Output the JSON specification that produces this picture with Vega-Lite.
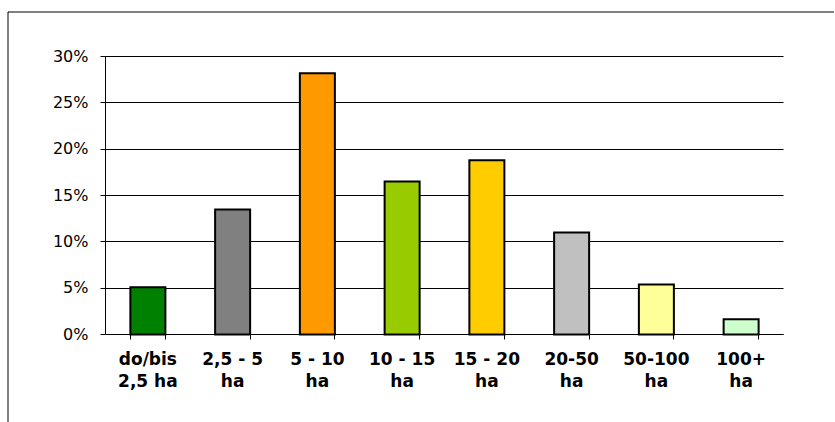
{
  "$schema": "https://vega.github.io/schema/vega-lite/v6.json",
  "width": 827,
  "height": 410,
  "autosize": {"type": "none"},
  "padding": {"left": 7.5, "top": 11.5, "right": 0, "bottom": 0},
  "background": "white",
  "config": {
    "view": {"stroke": "black", "strokeWidth": 1, "strokeDash": [826, 1238, 410]},
    "axis": {"translate": 0}
  },
  "data": {
    "values": [
      {"size": "do/bis 2,5 ha", "share": 0.051},
      {"size": "2,5 - 5 ha", "share": 0.135},
      {"size": "5 - 10 ha", "share": 0.282},
      {"size": "10 - 15 ha", "share": 0.165},
      {"size": "15 - 20 ha", "share": 0.188},
      {"size": "20-50 ha", "share": 0.110},
      {"size": "50-100 ha", "share": 0.054},
      {"size": "100+ ha", "share": 0.0165}
    ]
  },
  "mark": {"type": "bar", "stroke": "black", "strokeWidth": 2},
  "encoding": {
    "x": {
      "field": "size",
      "type": "nominal",
      "sort": null,
      "scale": {"range": [98, 776], "paddingInner": 0.587, "paddingOuter": 0.2935},
      "axis": {
        "title": null,
        "orient": "bottom",
        "offset": -87,
        "tickBand": "extent",
        "grid": false,
        "domainColor": "black",
        "domainWidth": 1,
        "tickColor": "black",
        "tickSize": 5,
        "labelAngle": 0,
        "labelFont": "DejaVu Sans",
        "labelFontWeight": "bold",
        "labelFontSize": 17,
        "labelColor": "black",
        "labelPadding": 12,
        "labelLineHeight": 22,
        "labelBaseline": "top",
        "labelExpr": "!isString(datum.value) ? '' : (datum.value == 'do/bis 2,5 ha' ? ['do/bis', '2,5 ha'] : [replace(datum.value, ' ha', ''), 'ha'])"
      }
    },
    "y": {
      "field": "share",
      "type": "quantitative",
      "scale": {"domain": [0, 0.3], "range": [323, 45], "nice": false, "zero": true},
      "axis": {
        "title": null,
        "offset": -98,
        "format": ".0%",
        "values": [0, 0.05, 0.1, 0.15, 0.2, 0.25, 0.3],
        "grid": true,
        "gridColor": "black",
        "gridWidth": 1,
        "gridOpacity": 1,
        "domainColor": "black",
        "tickColor": "black",
        "tickSize": 5,
        "labelFont": "DejaVu Sans",
        "labelFontSize": 16,
        "labelColor": "black",
        "labelPadding": 12
      }
    },
    "color": {
      "field": "size",
      "type": "nominal",
      "sort": null,
      "legend": null,
      "scale": {
        "domain": ["do/bis 2,5 ha", "2,5 - 5 ha", "5 - 10 ha", "10 - 15 ha", "15 - 20 ha", "20-50 ha", "50-100 ha", "100+ ha"],
        "range": ["#008000", "#808080", "#FF9900", "#99CC00", "#FFCC00", "#C0C0C0", "#FFFF99", "#CCFFCC"]
      }
    }
  }
}
